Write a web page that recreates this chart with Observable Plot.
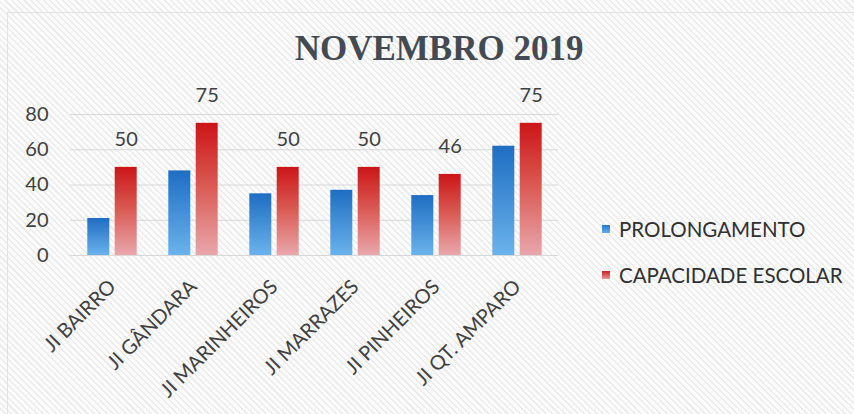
<!DOCTYPE html>
<html>
<head>
<meta charset="utf-8">
<script src="https://cdn.jsdelivr.net/npm/d3@7"></script>
<script src="https://cdn.jsdelivr.net/npm/@observablehq/plot@0.6"></script>
<style>
  html, body { margin: 0; padding: 0; }
  body { width: 854px; height: 414px; overflow: hidden; font-family: Lato, sans-serif; }
  #wrap {
    position: relative; width: 854px; height: 414px; overflow: hidden;
    background: repeating-linear-gradient(45deg, #fbfbfb 0px, #fbfbfb 3px, #ececec 3px, #ececec 4.5px);
  }
  #border { position: absolute; left: 7px; top: 12px; width: 870px; height: 420px; border: 1px solid #e2e2e2; }
  #title {
    position: absolute; left: 0; width: 878px; top: 29px; text-align: center;
    font-family: "Liberation Serif", serif; font-weight: bold; font-size: 35px; color: #444a52;
  }
  #chart { position: absolute; left: 0; top: 0; }
  .leg { position: absolute; left: 602px; font-size: 20.5px; color: #303030; white-space: nowrap; }
  .leg span.sw { position: absolute; left: 0; width: 8px; height: 8px; }
  .leg span.tx { position: absolute; left: 17px; line-height: 24px; top: -12px; }
</style>
</head>
<body>
<div id="wrap">
  <div id="border"></div>
  <div id="chart"></div>
  <div id="title">NOVEMBRO 2019</div>
  <div class="leg" id="leg1" style="top:229px"><span class="sw" style="top:-4px;background:linear-gradient(#2a76c6,#63aee8)"></span><span class="tx">PROLONGAMENTO</span></div>
  <div class="leg" id="leg2" style="top:275px"><span class="sw" style="top:-4px;background:linear-gradient(#c81e1e,#e39a9c)"></span><span class="tx">CAPACIDADE ESCOLAR</span></div>
</div>
<script>
const schools = ["JI BAIRRO", "JI GÂNDARA", "JI MARINHEIROS", "JI MARRAZES", "JI PINHEIROS", "JI QT. AMPARO"];
const prolongamento = [21, 48, 35, 37, 34, 62];
const capacidade = [50, 75, 50, 50, 46, 75];
const yTicks = [0, 20, 40, 60, 80];

const dataP = schools.map((s, i) => ({school: s, value: prolongamento[i]}));
const dataC = schools.map((s, i) => ({school: s, value: capacidade[i]}));

const plot = Plot.plot({
  width: 854,
  height: 414,
  marginLeft: 70,
  marginRight: 296,
  marginTop: 114,
  marginBottom: 159,
  style: {background: "transparent", fontFamily: "Lato, sans-serif", color: "#404040"},
  x: {domain: schools, paddingInner: 0.73, paddingOuter: 0.365, label: null},
  y: {domain: [0, 80], label: null},
  marks: [
    Plot.ruleY(yTicks, {stroke: "#d8d8d8", strokeWidth: 1}),
    Plot.barY(dataP, {x: "school", y: "value", dx: -13.7, fill: "url(#gBlue)"}),
    Plot.barY(dataC, {x: "school", y: "value", dx: 13.7, fill: "url(#gRed)"}),
    Plot.text(dataC, {x: "school", y: "value", dx: 13.7, dy: -28, text: d => String(d.value), fontSize: 20, fill: "#404040"}),
    Plot.axisY({ticks: yTicks, tickSize: 0, tickPadding: 22, fontSize: 20, label: null}),
    Plot.axisX({tickRotate: -45, tickSize: 0, tickPadding: 28, fontSize: 20, label: null})
  ]
});

const ns = "http://www.w3.org/2000/svg";
const defs = document.createElementNS(ns, "defs");
defs.innerHTML = `
  <linearGradient id="gBlue" x1="0" y1="0" x2="0" y2="1">
    <stop offset="0" stop-color="#1e6dc2"/>
    <stop offset="1" stop-color="#6bb3ec"/>
  </linearGradient>
  <linearGradient id="gRed" x1="0" y1="0" x2="0" y2="1">
    <stop offset="0" stop-color="#cc1517"/>
    <stop offset="0.45" stop-color="#d9564f"/>
    <stop offset="1" stop-color="#e9a7ab"/>
  </linearGradient>`;
plot.insertBefore(defs, plot.firstChild);
document.getElementById("chart").appendChild(plot);
</script>
</body>
</html>
